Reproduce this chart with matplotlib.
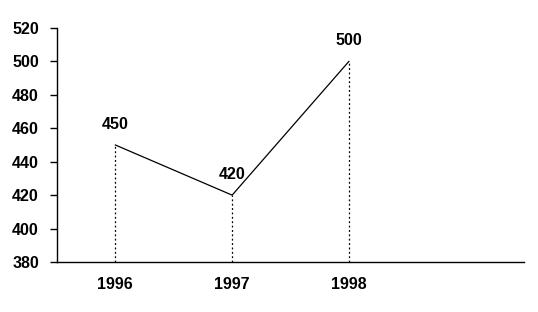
import matplotlib
matplotlib.use("Agg")
import matplotlib.pyplot as plt

plt.rcParams['font.family'] = ['Liberation Sans', 'DejaVu Sans']

categories = ["1996", "1997", "1998", ""]
values = [450, 420, 500]
yticks = [380, 400, 420, 440, 460, 480, 500, 520]

fig = plt.figure(figsize=(5.38, 3.12), dpi=100)
ax = fig.add_axes([57/538, 50/312, (524-57)/538, (262-28)/312])

x = list(range(len(values)))
ax.plot(x, values, color='black', linewidth=0.9)
ax.vlines(x, yticks[0], values, colors='black', linestyles=(0, (1.5, 2)), linewidth=0.9)
for xi, v in zip(x, values):
    ax.annotate(str(v), (xi, v), xytext=(0, 9.5), textcoords='offset points',
                ha='center', va='bottom', fontsize=11.5, fontweight='bold')

ax.set_xlim(-0.5, len(categories) - 0.5)
ax.set_ylim(yticks[0], yticks[-1])
ax.set_yticks(yticks)
ax.set_xticks(range(len(categories)))
ax.set_xticklabels(categories, fontsize=11.5, fontweight='bold')
for lab in ax.get_yticklabels():
    lab.set_fontsize(11.5)
    lab.set_fontweight('bold')
ax.tick_params(axis='x', length=0, pad=11)
ax.tick_params(axis='y', length=5, width=1, pad=8, direction='out')
ax.spines['top'].set_visible(False)
ax.spines['right'].set_visible(False)
ax.spines['left'].set_linewidth(1)
ax.spines['bottom'].set_linewidth(1)

fig.savefig("out.png", dpi=100)
